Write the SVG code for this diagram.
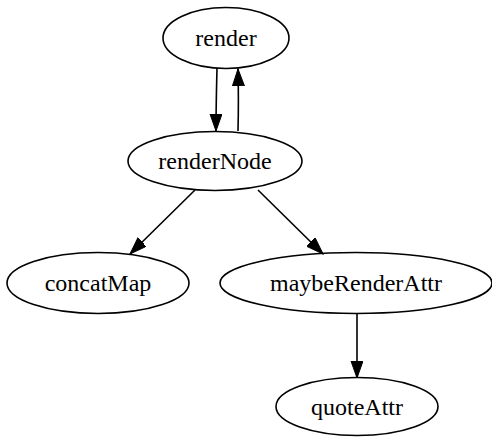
<svg xmlns="http://www.w3.org/2000/svg" width="492" height="437" viewBox="0 0 492 437">
  <style>
    .node ellipse { fill: none; stroke: #000; stroke-width: 1.6; }
    .node text { font-family: "Liberation Serif", "Times New Roman", serif; font-size: 24px; fill: #000; text-anchor: middle; }
    .edge { fill: none; stroke: #000; stroke-width: 1.6; marker-end: url(#arrow); }
  </style>
  <defs>
    <marker id="arrow" markerUnits="userSpaceOnUse" markerWidth="20" markerHeight="14" refX="17" refY="6" orient="auto" viewBox="0 0 20 14">
      <path d="M0,0 L17,6 L0,12 z" fill="#000" stroke="#000" stroke-width="1"/>
    </marker>
  </defs>

  <g id="edges">
    <path class="edge" d="M217,68 C216.5,88 216,108 216,131"/>
    <path class="edge" d="M238,131 C238.5,112 238.5,90 238,69"/>
    <path class="edge" d="M195,190 L130,254"/>
    <path class="edge" d="M258,190 L323,254"/>
    <path class="edge" d="M357,314 L357,378"/>
  </g>

  <g id="render" class="node">
    <ellipse cx="226" cy="38" rx="63" ry="30.5"/>
    <text x="226" y="46">render</text>
  </g>
  <g id="renderNode" class="node">
    <ellipse cx="215" cy="161" rx="87" ry="29.5"/>
    <text x="215" y="169">renderNode</text>
  </g>
  <g id="concatMap" class="node">
    <ellipse cx="98" cy="283" rx="91" ry="30.5"/>
    <text x="98" y="291">concatMap</text>
  </g>
  <g id="maybeRenderAttr" class="node">
    <ellipse cx="356" cy="283" rx="136" ry="30.5"/>
    <text x="356" y="291">maybeRenderAttr</text>
  </g>
  <g id="quoteAttr" class="node">
    <ellipse cx="357" cy="406.5" rx="81" ry="29"/>
    <text x="357" y="415">quoteAttr</text>
  </g>
</svg>
